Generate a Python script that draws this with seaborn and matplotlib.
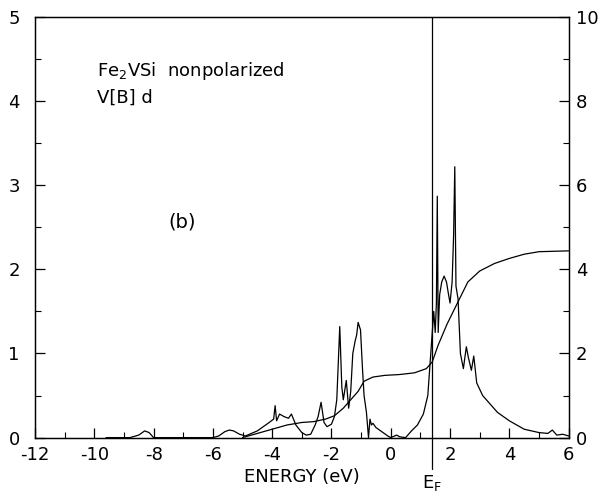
import matplotlib
matplotlib.use("Agg")
import numpy as np
import pandas as pd
import matplotlib.pyplot as plt
import seaborn as sns

# V[B] d partial DOS (left axis, states/eV)
dos_e = [-9.6, -8.8, -8.5, -8.3, -8.15, -8.0, -7.0, -6.0, -5.8, -5.6, -5.45, -5.3, -5.1,
         -4.9, -4.5, -4.1, -3.95, -3.9, -3.85, -3.75, -3.6, -3.45, -3.35, -3.2, -3.0,
         -2.85, -2.7, -2.55, -2.45, -2.35, -2.25, -2.15, -2.0, -1.9, -1.82, -1.72,
         -1.65, -1.6, -1.5, -1.42, -1.35, -1.28, -1.2, -1.15, -1.1, -1.02, -0.95,
         -0.9, -0.82, -0.75, -0.7, -0.65, -0.6, -0.5, -0.3, -0.1, 0.0, 0.2, 0.3,
         0.5, 0.7, 0.9, 1.1, 1.25, 1.33, 1.4, 1.45, 1.5, 1.54, 1.57, 1.6, 1.65, 1.72,
         1.8, 1.88, 1.95, 2.0, 2.07, 2.12, 2.16, 2.2, 2.27, 2.35, 2.45, 2.55, 2.62,
         2.72, 2.8, 2.9, 3.1, 3.3, 3.6, 4.0, 4.5, 5.0, 5.3, 5.45, 5.6, 5.8, 6.0]
dos_v = [0.0, 0.0, 0.03, 0.08, 0.06, 0.0, 0.0, 0.0, 0.02, 0.07, 0.09, 0.08, 0.04,
         0.02, 0.08, 0.18, 0.22, 0.38, 0.2, 0.28, 0.25, 0.23, 0.28, 0.15, 0.06,
         0.03, 0.04, 0.15, 0.25, 0.42, 0.18, 0.13, 0.16, 0.25, 0.45, 1.32,
         0.6, 0.45, 0.68, 0.35, 0.55, 1.0, 1.15, 1.22, 1.37, 1.28, 0.8,
         0.5, 0.3, 0.0, 0.22, 0.15, 0.17, 0.12, 0.07, 0.02, 0.0, 0.03, 0.01,
         0.0, 0.08, 0.15, 0.28, 0.5, 0.9, 1.25, 1.5, 1.25, 1.6, 2.87, 1.25, 1.7, 1.85,
         1.92, 1.85, 1.7, 1.6, 1.85, 2.4, 3.22, 1.8, 1.65, 1.0, 0.82, 1.08, 0.95,
         0.8, 0.97, 0.65, 0.5, 0.42, 0.3, 0.2, 0.1, 0.06, 0.05, 0.09, 0.03, 0.04, 0.02]

# integrated DOS (right axis, electrons)
int_e = [-5.0, -4.5, -4.0, -3.5, -3.0, -2.6, -2.2, -1.9, -1.6, -1.35, -1.1, -0.9,
         -0.6, -0.2, 0.3, 0.8, 1.2, 1.4, 1.6, 1.9, 2.25, 2.6, 3.0, 3.5, 4.0, 4.5, 5.0, 6.0]
int_v = [0.0, 0.1, 0.2, 0.3, 0.36, 0.38, 0.44, 0.52, 0.7, 0.9, 1.1, 1.34,
         1.44, 1.48, 1.5, 1.54, 1.64, 1.8, 2.2, 2.7, 3.2, 3.7, 3.96, 4.14, 4.26, 4.36, 4.42, 4.44]

e_fermi = 1.38

sns.set_style("ticks")
plt.rcParams["font.family"] = ["DejaVu Sans"]
plt.rcParams["axes.unicode_minus"] = False
plt.rcParams["text.color"] = "black"
plt.rcParams["xtick.color"] = "black"
plt.rcParams["ytick.color"] = "black"
plt.rcParams["axes.labelcolor"] = "black"
plt.rcParams["axes.edgecolor"] = "black"

fig = plt.figure(figsize=(6.03, 4.99), dpi=100)
ax = fig.add_axes([0.058, 0.123, 0.885, 0.843])
ax2 = ax.twinx()

dos = pd.DataFrame({"E": dos_e, "DOS": dos_v})
idos = pd.DataFrame({"E": int_e, "N": int_v})

sns.lineplot(data=dos, x="E", y="DOS", ax=ax, color="black", lw=0.9)
sns.lineplot(data=idos, x="E", y="N", ax=ax2, color="black", lw=0.9)

# Fermi level, line runs down past the axis to the label
ax.axvline(e_fermi, color="black", lw=0.9)
ax.plot([e_fermi, e_fermi], [0, -0.075], transform=ax.get_xaxis_transform(),
        color="black", lw=0.9, clip_on=False)
ax.text(e_fermi, -0.085, r"E$_\mathrm{F}$", transform=ax.get_xaxis_transform(),
        ha="center", va="top", fontsize=13)

ax.set_xlim(-12, 6)
ax.set_ylim(0, 5)
ax2.set_ylim(0, 10)
ax.set_xticks(np.arange(-12, 7, 2))
ax.set_xticks(np.arange(-12, 7, 1), minor=True)
ax.set_yticks(np.arange(0, 6, 1))
ax.set_yticks(np.arange(0, 5.1, 0.5), minor=True)
ax2.set_yticks(np.arange(0, 11, 2))
ax2.set_yticks(np.arange(0, 11, 1), minor=True)

for a in (ax, ax2):
    a.tick_params(which="major", direction="in", length=7, width=0.9, labelsize=13,
                  top=False)
    a.tick_params(which="minor", direction="in", length=4, width=0.8)
    for s in a.spines.values():
        s.set_linewidth(0.9)
        s.set_visible(True)
ax2.tick_params(axis="y", which="both", right=True, left=False, pad=5)
ax.tick_params(axis="y", which="both", left=True, right=False, pad=11)
ax.tick_params(axis="x", pad=6)

ax.set_xlabel("ENERGY (eV)", fontsize=13, labelpad=3)
ax.set_ylabel("")
ax2.set_ylabel("")

ax.text(-9.9, 4.3, "Fe$_2$VSi  nonpolarized", fontsize=13)
ax.text(-9.9, 3.98, "V[B] d", fontsize=13)
ax.text(-7.5, 2.5, "(b)", fontsize=14)

fig.savefig("out.png", dpi=100)
